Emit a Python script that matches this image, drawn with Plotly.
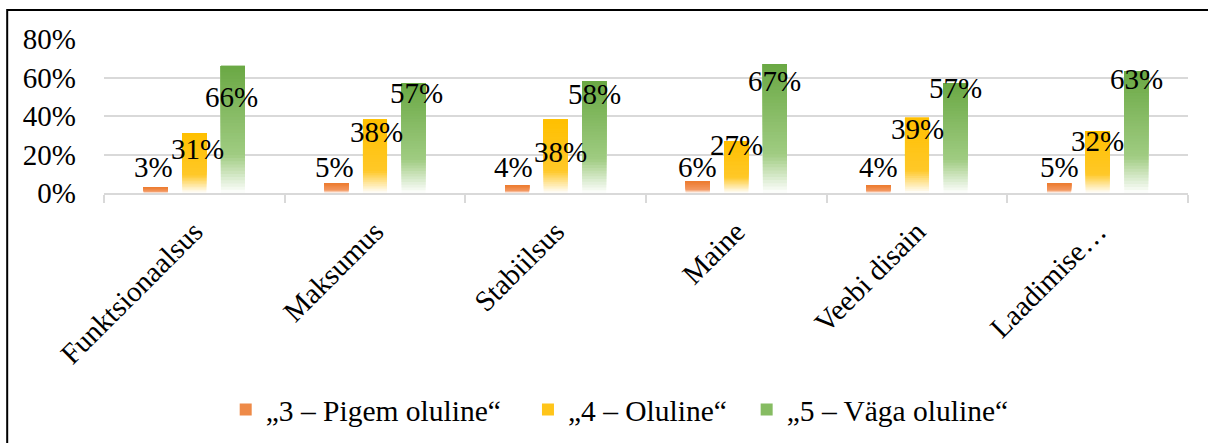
import plotly.graph_objects as go

# ---- data ----
categories = ["Funktsionaalsus", "Maksumus", "Stabiilsus", "Maine", "Veebi disain", "Laadimise…"]
series_names = ["„3 – Pigem oluline“", "„4 – Oluline“", "„5 – Väga oluline“"]
values_3 = [3, 5, 4, 6, 4, 5]
values_4 = [31, 38, 38, 27, 39, 32]
values_5 = [66, 57, 58, 67, 57, 63]

# ---- styles ----
top_colors = [(237, 125, 49), (255, 192, 0), (106, 168, 68)]
mid_colors = [(243, 152, 98), (255, 200, 40), (160, 204, 130)]
legend_colors = ["#EE8A48", "#FFC51A", "#86BC62"]
bar_width = 0.133          # in category units
bar_centers = [-0.2136, 0.0, 0.2136]
px_per_cat = 1084 / 6
# label offsets (px, relative to bar top / bar centre)
label_shift_3 = [20, 16, 18, 14, 18, 16]
label_shift_4 = [-16, -12, -32, -4, -11, -10]
label_shift_5 = [-31, -10, -13, -17, -5, -7]
label_dx_3 = [-2, -2, -4, 0, 0, 0]
label_dx_4 = [3, 1, 5, 0, 0, 0]
label_dx_5 = [-1, 3, 0, 0, 0, 0]
legend_pads = ["\u00a0\u00a0\u00a0", "\u00a0\u00a0", ""]

FONT = "Liberation Serif, Times New Roman, serif"
N = 40


def color_at(t, top, mid):
    white = (255, 255, 255)
    if t < 0.3:
        f = t / 0.3
        a, b = white, mid
    else:
        f = (t - 0.3) / 0.7
        a, b = mid, top
    c = [round(a[i] + (b[i] - a[i]) * f) for i in range(3)]
    return f"rgb({c[0]},{c[1]},{c[2]})"


fig = go.Figure()
all_values = [values_3, values_4, values_5]
all_shifts = [label_shift_3, label_shift_4, label_shift_5]
all_dx = [label_dx_3, label_dx_4, label_dx_5]

for s, vals in enumerate(all_values):
    for k in range(N):
        t = (k + 0.5) / N
        bases = [v * k / N for v in vals]
        heights = [v - b for v, b in zip(vals, bases)]
        fig.add_trace(go.Bar(
            x=categories, y=heights, base=bases,
            width=bar_width, offset=bar_centers[s] - bar_width / 2,
            marker=dict(color=color_at(t, top_colors[s], mid_colors[s]), line=dict(width=0)),
            showlegend=False, hoverinfo="skip",
        ))
    # legend entry
    fig.add_trace(go.Bar(
        x=[categories[0]], y=[None],
        name=series_names[s] + legend_pads[s],
        marker=dict(color=legend_colors[s], line=dict(width=0)),
        showlegend=True, hoverinfo="skip",
    ))
    for c, v, sh, dx in zip(categories, vals, all_shifts[s], all_dx[s]):
        fig.add_annotation(
            x=c, y=v, xref="x", yref="y", text=f"{v}%", showarrow=False,
            xshift=bar_centers[s] * px_per_cat + dx, yshift=sh, yanchor="middle",
            font=dict(family=FONT, size=29, color="black"),
        )

# outer border
fig.add_shape(type="rect", xref="paper", yref="paper",
              x0=-0.0893, x1=1.05, y0=-1.8, y1=1.188,
              line=dict(color="black", width=2), fillcolor="rgba(0,0,0,0)")

fig.update_layout(
    width=1208, height=443,
    margin=dict(l=104, r=20, t=39, b=250),
    barmode="overlay",
    plot_bgcolor="white", paper_bgcolor="white",
    font=dict(family=FONT, size=27, color="black"),
    legend=dict(orientation="h", xref="container", yref="container",
                x=0.513, xanchor="center", y=0.075, yanchor="middle",
                font=dict(family=FONT, size=29.5), bgcolor="rgba(0,0,0,0)",
                itemwidth=30),
    xaxis=dict(showline=True, linecolor="#D9D9D9", linewidth=2,
               ticks="outside", tickson="boundaries", ticklen=8,
               tickcolor="#D9D9D9", tickwidth=2, tickangle=-45,
               tickfont=dict(family=FONT, size=29), showgrid=False,
               ticklabelstandoff=8),
    yaxis=dict(range=[0, 80], dtick=20, ticksuffix="%", gridcolor="#D9D9D9",
               gridwidth=2, zeroline=False, showline=False,
               tickfont=dict(family=FONT, size=29), ticklabelstandoff=27),
)

fig.write_html("out.html", config={"displayModeBar": False},
               post_script="document.body.style.margin='0px';")
